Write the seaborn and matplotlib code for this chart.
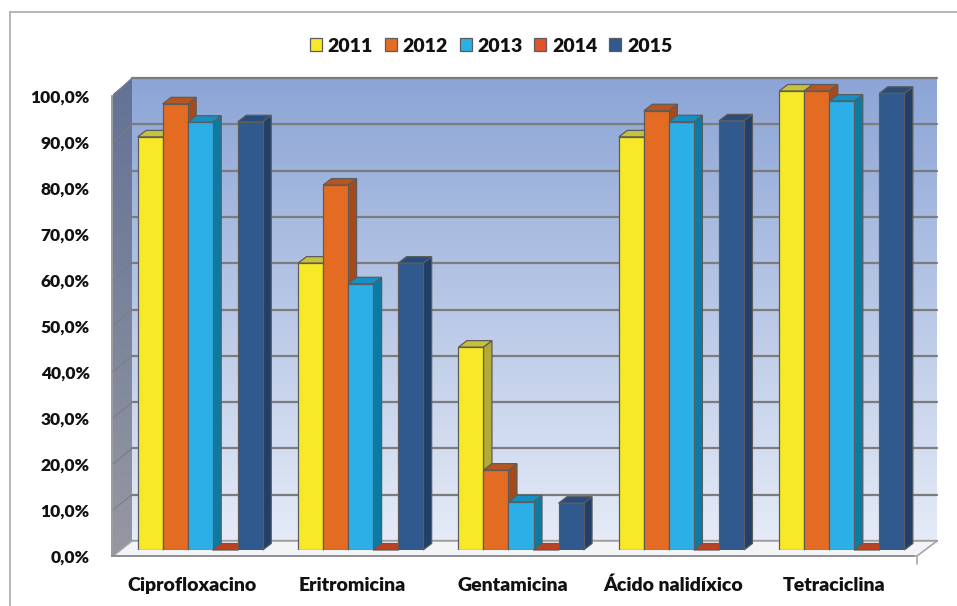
import numpy as np
import pandas as pd
import matplotlib
matplotlib.use("Agg")
import matplotlib.pyplot as plt
from matplotlib.patches import Polygon
from matplotlib.ticker import FuncFormatter
import seaborn as sns

# ---- data -------------------------------------------------------------
antibiotics = ["Ciprofloxacino", "Eritromicina", "Gentamicina",
               "Ácido nalidíxico", "Tetraciclina"]
years = ["2011", "2012", "2013", "2014", "2015"]
pct_2011 = [90.0, 62.5, 44.2, 90.0, 100.0]
pct_2012 = [97.2, 79.5, 17.4, 95.7, 100.0]
pct_2013 = [93.2, 58.0, 10.5, 93.3, 97.8]
pct_2014 = [0.0, 0.0, 0.0, 0.0, 0.0]
pct_2015 = [93.3, 62.5, 10.2, 93.5, 99.5]
y_ticks = [0, 10, 20, 30, 40, 50, 60, 70, 80, 90, 100]

series = [pct_2011, pct_2012, pct_2013, pct_2014, pct_2015]
df = pd.DataFrame({
    "antibiotico": [a for _ in years for a in antibiotics],
    "ano": [y for y in years for _ in antibiotics],
    "pct": [v for s in series for v in s],
})

# ---- styling ----------------------------------------------------------
front_colors = ["#f7e928", "#e36c22", "#2cafe6", "#e2522b", "#30598d"]
top_colors = ["#c9c03c", "#b9561f", "#1690c2", "#c0401f", "#284c7b"]
side_colors = ["#b4ab36", "#a54b1b", "#0a7ba5", "#a83a1c", "#213f67"]
edge = "#5c5c5c"
text_color = "#111111"
font_w = "heavy"

sns.set_style("white")
plt.rcParams["font.family"] = ["Lato", "DejaVu Sans"]
plt.rcParams["font.weight"] = font_w

W, H = 957, 606
fig = plt.figure(figsize=(W / 100, H / 100), dpi=100)


def px_box(left, top, right, bottom):
    """Pixel box (y downwards) -> figure-fraction rectangle."""
    return [left / W, 1 - bottom / H, (right - left) / W, (bottom - top) / H]


# ---- background: frame, walls, floor -----------------------------------
bg = fig.add_axes([0, 0, 1, 1], zorder=0)
bg.axis("off")

# chart frame
bg.plot([10, 10], [H, 12], color="#b4b4b4", lw=1.4)
bg.plot([10, W], [12, 12], color="#b4b4b4", lw=1.4)

# back wall with vertical gradient
bw_l, bw_r, bw_t, bw_b = 132, 937, 78, 541
top_rgb = np.array([140, 165, 214]) / 255
bot_rgb = np.array([229, 235, 247]) / 255
t = np.linspace(0, 1, 256)[:, None, None]
grad = top_rgb * (1 - t) + bot_rgb * t
bg.imshow(grad, extent=(bw_l, bw_r, bw_b, bw_t), aspect="auto",
          interpolation="bilinear", zorder=1)

# side wall (left) with gradient, clipped to its parallelogram
fx, fy0, fy100 = 113, 556, 94
side_poly = Polygon([(fx, fy0), (fx, fy100), (bw_l, bw_t), (bw_l, bw_b)],
                    closed=True, facecolor="none", edgecolor="none", zorder=2)
bg.add_patch(side_poly)
s_top = np.array([98, 113, 150]) / 255
s_bot = np.array([150, 152, 162]) / 255
sgrad = s_top * (1 - t) + s_bot * t
im = bg.imshow(sgrad, extent=(fx, bw_l, fy0, bw_t), aspect="auto",
               interpolation="bilinear", zorder=2)
im.set_clip_path(side_poly)

# gridlines on back and side walls
for v in y_ticks:
    yb = bw_b - (bw_b - bw_t) * v / 100
    yf = fy0 - (556 - 96) * v / 100
    bg.plot([bw_l, bw_r], [yb, yb], color="#7c7c7c", lw=1.6, zorder=3)
    bg.plot([fx, bw_l], [yf, yb], color="#7a7c86", lw=0.8, zorder=3)

# floor
floor = Polygon([(fx, 556), (917, 556), (bw_r, bw_b), (bw_l, bw_b)],
                closed=True, facecolor="#f3f4f8", edgecolor="#a6a6a6",
                lw=1.2, zorder=4)
bg.add_patch(floor)
bg.plot([917, 917], [556, 564], color="#a6a6a6", lw=1.2, zorder=4)

bg.set_xlim(0, W)
bg.set_ylim(H, 0)

# ---- front axis (value scale + categories) -----------------------------
fax = fig.add_axes(px_box(112, 96, 914, 556), zorder=1)
fax.patch.set_alpha(0)
fax.set_xlim(-0.5, 4.5)
fax.set_ylim(0, 100)
for s in ("top", "right"):
    fax.spines[s].set_visible(False)
for s in ("left", "bottom"):
    fax.spines[s].set_color("#8a8a8a")
    fax.spines[s].set_linewidth(1.2)
fax.set_yticks(y_ticks)
fax.yaxis.set_major_formatter(
    FuncFormatter(lambda v, _: f"{v:.1f}%".replace(".", ",")))
fax.tick_params(axis="y", length=7, width=1.2, color="#8a8a8a",
                labelsize=12.5, labelcolor=text_color, pad=9)
fax.set_xticks(range(len(antibiotics)))
fax.set_xticklabels(antibiotics)
fax.set_xticks(np.arange(-0.5, len(antibiotics), 1.0), minor=True)
fax.tick_params(axis="x", which="major", length=0, labelsize=14,
                labelcolor=text_color, pad=15)
fax.tick_params(axis="x", which="minor", length=7, width=1.2,
                color="#8a8a8a")
for lab in fax.get_xticklabels() + fax.get_yticklabels():
    lab.set_fontweight(font_w)

# ---- bars (drawn on the plane set back from the front edge) -----------
bax = fig.add_axes(px_box(120, 91, 922, 550), zorder=2)
bax.patch.set_alpha(0)
sns.barplot(data=df, x="antibiotico", y="pct", hue="ano",
            order=antibiotics, hue_order=years, palette=front_colors,
            saturation=1, width=0.78, errorbar=None, edgecolor=edge,
            linewidth=0.9, ax=bax)
bax.set_xlim(-0.5, 4.5)
bax.set_ylim(0, 100)
bax.axis("off")

# depth of each bar in data units
dx = 8.5 / (802 / 5)
dy = 6.5 / (459 / 100)

rects = []
for ci, cont in enumerate(bax.containers):
    for r in cont:
        rects.append((r.get_x(), ci, r))
rects.sort(key=lambda item: item[0])
for rank, (_, ci, r) in enumerate(rects):
    x, w, h = r.get_x(), r.get_width(), r.get_height()
    z = 3 + 2 * rank
    r.set_zorder(z + 1)
    top = Polygon([(x, h), (x + dx, h + dy), (x + w + dx, h + dy), (x + w, h)],
                  closed=True, facecolor=top_colors[ci], edgecolor=edge,
                  lw=0.9, zorder=z, clip_on=False)
    side = Polygon([(x + w, 0), (x + w + dx, dy), (x + w + dx, h + dy), (x + w, h)],
                   closed=True, facecolor=side_colors[ci], edgecolor=edge,
                   lw=0.9, zorder=z, clip_on=False)
    bax.add_patch(side)
    bax.add_patch(top)

# ---- legend -------------------------------------------------------------
handles, labels = bax.get_legend_handles_labels()
if bax.get_legend() is not None:
    bax.get_legend().remove()
leg = fig.legend(handles, labels, loc="center",
                 bbox_to_anchor=(491 / W, 1 - 46 / H), ncol=5, frameon=False,
                 handlelength=0.62, handleheight=0.62, handletextpad=0.3,
                 columnspacing=0.6,
                 prop={"family": "Lato", "weight": font_w, "size": 14})
for txt in leg.get_texts():
    txt.set_color(text_color)

fig.savefig("out.png", dpi=100)
